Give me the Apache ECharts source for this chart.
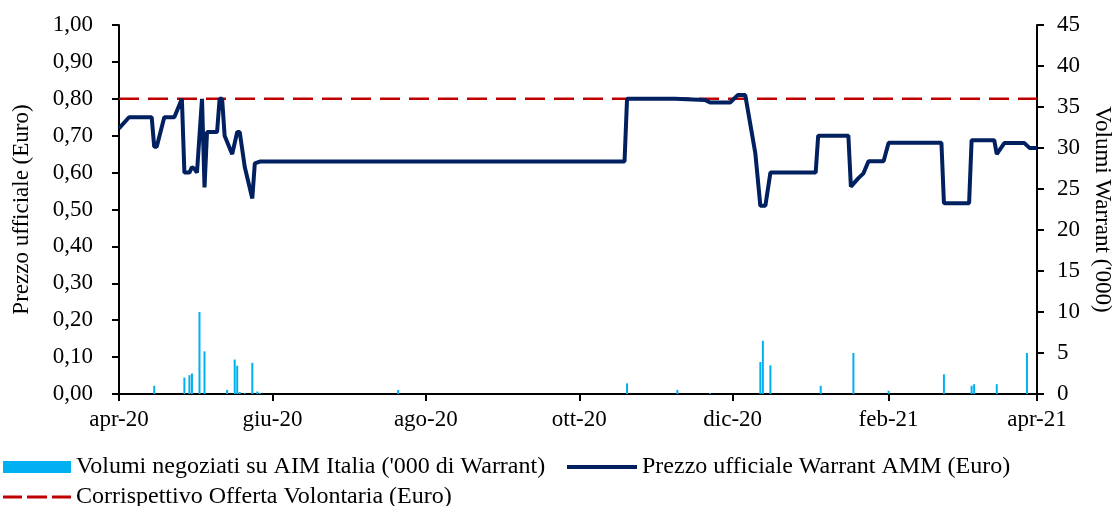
<!DOCTYPE html>
<html>
<head>
<meta charset="utf-8">
<script src="https://cdn.jsdelivr.net/npm/echarts@6/dist/echarts.min.js"></script>
<style>html,body{margin:0;padding:0;background:#fff;}#c{width:1116px;height:506px;}</style>
</head>
<body>
<div id="c"></div>
<script>
// ---- data ----
var startDate = '2020-04-01';
var endDate = '2021-04-01';
var tickDates = ['2020-04-01','2020-06-01','2020-08-01','2020-10-01','2020-12-01','2021-02-01','2021-04-01'];
var monthNames = ['gen','feb','mar','apr','mag','giu','lug','ago','set','ott','nov','dic'];

var priceDates = ['2020-04-01','2020-04-05','2020-04-14','2020-04-15','2020-04-16','2020-04-19','2020-04-23','2020-04-26','2020-04-27','2020-04-29',
  '2020-04-30','2020-05-01','2020-05-02','2020-05-04','2020-05-05','2020-05-06','2020-05-10','2020-05-11','2020-05-12','2020-05-13',
  '2020-05-16','2020-05-18','2020-05-19','2020-05-21','2020-05-24','2020-05-25','2020-05-27','2020-10-19','2020-10-20','2020-11-08',
  '2020-11-20','2020-11-22','2020-11-30','2020-12-03','2020-12-06','2020-12-10','2020-12-12','2020-12-14','2020-12-16','2021-01-03',
  '2021-01-04','2021-01-16','2021-01-17','2021-01-20','2021-01-22','2021-01-24','2021-01-30','2021-02-01','2021-02-22','2021-02-23',
  '2021-03-05','2021-03-06','2021-03-15','2021-03-16','2021-03-19','2021-03-27','2021-03-29','2021-04-01'];
var priceValues = [0.72,0.75,0.75,0.67,0.67,0.75,0.75,0.80,0.60,0.60,
  0.615,0.61,0.60,0.80,0.56,0.71,0.71,0.80,0.80,0.70,
  0.65,0.71,0.71,0.615,0.53,0.625,0.63,0.63,0.80,0.80,
  0.797,0.79,0.79,0.81,0.81,0.653,0.51,0.51,0.60,0.60,
  0.70,0.70,0.562,0.585,0.598,0.631,0.631,0.681,0.681,0.517,
  0.517,0.688,0.688,0.65,0.68,0.68,0.667,0.667];

var volumeDates = ['2020-04-15','2020-04-27','2020-04-29','2020-04-30','2020-05-03','2020-05-05','2020-05-14','2020-05-17','2020-05-18','2020-05-19',
  '2020-05-21','2020-05-24','2020-05-26','2020-05-27','2020-07-21','2020-10-20','2020-11-09','2020-11-22','2020-12-12','2020-12-13',
  '2020-12-16','2021-01-05','2021-01-18','2021-02-01','2021-02-23','2021-03-06','2021-03-07','2021-03-16','2021-03-28'];
var volumeValues = [1.0,2.0,2.3,2.5,10.0,5.2,0.5,4.2,3.45,0.25,
  0.1,3.8,0.3,0.15,0.5,1.3,0.5,0.1,3.9,6.5,
  3.5,1.0,5.0,0.4,2.4,1.0,1.2,1.2,5.0];

var offerDates = ['2020-04-01','2021-04-01'];
var offerValues = [0.80,0.80];

var seriesNames = ["Volumi negoziati su AIM Italia ('000 di Warrant)", 'Prezzo ufficiale Warrant AMM (Euro)', 'Corrispettivo Offerta Volontaria (Euro)'];

// ---- daily category axis ----
function fmt(d){ return d.toISOString().slice(0,10); }
var categories = [];
for (var t = Date.parse(startDate + 'T00:00:00Z'); t <= Date.parse(endDate + 'T00:00:00Z'); t += 86400000) {
  categories.push(fmt(new Date(t)));
}
function pairs(ds, vs){ return ds.map(function(d,i){ return [d, vs[i]]; }); }
function isTick(idx, val){ return tickDates.indexOf(val) >= 0; }

var FONT = '"Liberation Serif", "Times New Roman", serif';
var FS = 23;
var legendText = {fontFamily: FONT, fontSize: 24, color: '#000'};
var chart = echarts.init(document.getElementById('c'), null, {renderer: 'canvas'});
chart.setOption({
  animation: false,
  textStyle: {fontFamily: FONT, color: '#000'},
  grid: {left: 119, right: 79, top: 25, bottom: 112, containLabel: false, outerBoundsMode: 'none'},
  legend: [
    {left: 3, top: 455, padding: 0, itemWidth: 68, itemHeight: 12, itemGap: 10,
     data: [{name: seriesNames[0], icon: 'rect'}], textStyle: legendText},
    {left: 567, top: 455, padding: 0, itemWidth: 70, itemHeight: 4, itemGap: 6,
     data: [{name: seriesNames[1], icon: 'path://M0,0h70v4h-70z'}], textStyle: legendText},
    {left: 3, top: 485, padding: 0, itemWidth: 68, itemHeight: 3, itemGap: 10,
     data: [{name: seriesNames[2], icon: 'path://M0,0h19v3h-19z M24,0h20v3h-20z M49,0h19v3h-19z'}], textStyle: legendText}
  ],
  xAxis: {
    type: 'category', data: categories, boundaryGap: false,
    axisLine: {lineStyle: {color: '#000', width: 2}},
    axisTick: {show: true, interval: isTick, length: 7, lineStyle: {color: '#000', width: 2}},
    axisLabel: {interval: isTick, margin: 14, fontSize: FS, fontFamily: FONT, color: '#000',
      formatter: function(v){ var p = v.split('-'); return monthNames[parseInt(p[1],10)-1] + '-' + p[0].slice(2); }},
    splitLine: {show: false}
  },
  yAxis: [
    {type: 'value', min: 0, max: 1, interval: 0.1, position: 'left',
     name: 'Prezzo ufficiale (Euro)', nameLocation: 'middle', nameGap: 86,
     nameTextStyle: {fontFamily: FONT, fontSize: FS, color: '#000'},
     axisLine: {show: true, lineStyle: {color: '#000', width: 2}},
     axisTick: {show: true, length: 7, lineStyle: {color: '#000', width: 2}},
     axisLabel: {margin: 26, fontSize: FS, fontFamily: FONT, color: '#000',
       formatter: function(v){ return v.toFixed(2).replace('.', ','); }},
     splitLine: {show: false}},
    {type: 'value', min: 0, max: 45, interval: 5, position: 'right',
     name: "Volumi Warrant ('000)", nameLocation: 'middle', nameGap: 52, nameRotate: -90,
     nameTextStyle: {fontFamily: FONT, fontSize: FS, color: '#000'},
     axisLine: {show: true, lineStyle: {color: '#000', width: 2}},
     axisTick: {show: true, length: 7, lineStyle: {color: '#000', width: 2}},
     axisLabel: {margin: 20, fontSize: FS, fontFamily: FONT, color: '#000'},
     splitLine: {show: false}}
  ],
  series: [
    {name: seriesNames[0], type: 'bar', yAxisIndex: 1, barWidth: 2, data: pairs(volumeDates, volumeValues),
     itemStyle: {color: '#00B0F0'}, z: 1},
    {name: seriesNames[2], type: 'line', yAxisIndex: 0, data: pairs(offerDates, offerValues), symbol: 'none',
     lineStyle: {color: '#C00000', width: 2.5, type: [20, 9]}, itemStyle: {color: '#C00000'}, z: 2},
    {name: seriesNames[1], type: 'line', yAxisIndex: 0, data: pairs(priceDates, priceValues), symbol: 'none',
     lineStyle: {color: '#002060', width: 4}, itemStyle: {color: '#002060'}, z: 3}
  ]
});
</script>
</body>
</html>
